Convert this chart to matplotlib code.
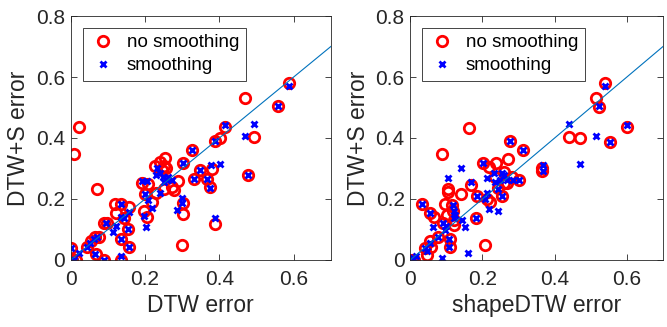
import matplotlib.pyplot as plt
import numpy as np

plt.rcParams['font.family'] = ['Liberation Sans', 'DejaVu Sans']

# DTW error vs DTW+S error, without smoothing
dtw_ns_x = [0.009, 0.022, 0.070, 0.000, 0.003, 0.014, 0.045, 0.054, 0.066, 0.077,
            0.067, 0.090, 0.090, 0.097, 0.118, 0.122, 0.135, 0.135, 0.135, 0.144,
            0.158, 0.155, 0.158, 0.198, 0.191, 0.200, 0.205, 0.209, 0.218, 0.227,
            0.230, 0.239, 0.250, 0.253, 0.250, 0.245, 0.257, 0.273, 0.278, 0.288,
            0.302, 0.302, 0.302, 0.299, 0.327, 0.332, 0.349, 0.367, 0.376, 0.380,
            0.389, 0.389, 0.403, 0.414, 0.470, 0.476, 0.492, 0.557, 0.588]
dtw_ns_y = [0.348, 0.435, 0.234, 0.038, 0.000, 0.000, 0.042, 0.063, 0.074, 0.074,
            0.020, 0.000, 0.120, 0.120, 0.184, 0.153, 0.184, 0.068, 0.000, 0.137,
            0.173, 0.100, 0.042, 0.162, 0.254, 0.215, 0.142, 0.249, 0.191, 0.309,
            0.219, 0.322, 0.309, 0.333, 0.232, 0.295, 0.300, 0.240, 0.229, 0.259,
            0.317, 0.186, 0.151, 0.049, 0.361, 0.266, 0.295, 0.266, 0.240, 0.297,
            0.118, 0.389, 0.399, 0.435, 0.531, 0.279, 0.404, 0.505, 0.579]

# DTW error vs DTW+S error, with smoothing
dtw_s_x = [0.000, 0.002, 0.009, 0.022, 0.045, 0.052, 0.063, 0.072, 0.066, 0.090,
           0.094, 0.115, 0.122, 0.135, 0.135, 0.135, 0.135, 0.144, 0.158, 0.155,
           0.158, 0.198, 0.203, 0.191, 0.205, 0.200, 0.209, 0.218, 0.229, 0.232,
           0.239, 0.241, 0.248, 0.252, 0.259, 0.263, 0.272, 0.286, 0.299, 0.299,
           0.302, 0.327, 0.332, 0.349, 0.367, 0.376, 0.377, 0.401, 0.389, 0.389,
           0.414, 0.468, 0.492, 0.476, 0.557, 0.588]
dtw_s_y = [0.038, 0.000, 0.000, 0.024, 0.042, 0.057, 0.068, 0.074, 0.020, 0.000,
           0.122, 0.093, 0.111, 0.184, 0.068, 0.013, 0.140, 0.137, 0.158, 0.100,
           0.042, 0.144, 0.109, 0.259, 0.259, 0.215, 0.197, 0.169, 0.279, 0.301,
           0.284, 0.219, 0.273, 0.257, 0.262, 0.273, 0.262, 0.164, 0.186, 0.202,
           0.317, 0.361, 0.266, 0.295, 0.266, 0.235, 0.311, 0.314, 0.137, 0.389,
           0.443, 0.407, 0.446, 0.279, 0.505, 0.571]

# shapeDTW error vs DTW+S error, without smoothing
shp_ns_x = [0.005, 0.011, 0.032, 0.042, 0.046, 0.054, 0.057, 0.055, 0.065, 0.076,
            0.088, 0.090, 0.097, 0.103, 0.106, 0.106, 0.110, 0.109, 0.115, 0.118,
            0.120, 0.122, 0.140, 0.162, 0.168, 0.183, 0.185, 0.201, 0.208, 0.212,
            0.217, 0.220, 0.237, 0.235, 0.242, 0.254, 0.259, 0.268, 0.272, 0.277,
            0.282, 0.300, 0.312, 0.366, 0.366, 0.441, 0.471, 0.514, 0.523, 0.540,
            0.554, 0.600, 0.259]
shp_ns_y = [0.000, 0.000, 0.184, 0.038, 0.016, 0.063, 0.042, 0.153, 0.142, 0.074,
            0.348, 0.122, 0.184, 0.148, 0.232, 0.224, 0.068, 0.042, 0.180, 0.162,
            0.131, 0.115, 0.216, 0.434, 0.246, 0.137, 0.210, 0.319, 0.049, 0.199,
            0.306, 0.191, 0.317, 0.273, 0.235, 0.210, 0.290, 0.251, 0.330, 0.391,
            0.273, 0.262, 0.361, 0.293, 0.300, 0.402, 0.399, 0.532, 0.503, 0.579,
            0.388, 0.435, 0.254]

# shapeDTW error vs DTW+S error, with smoothing
shp_s_x = [0.005, 0.009, 0.017, 0.032, 0.042, 0.046, 0.054, 0.055, 0.063, 0.076,
           0.088, 0.090, 0.097, 0.100, 0.106, 0.107, 0.108, 0.118, 0.122, 0.122,
           0.125, 0.140, 0.143, 0.152, 0.160, 0.168, 0.183, 0.185, 0.201, 0.208,
           0.214, 0.214, 0.217, 0.231, 0.235, 0.242, 0.242, 0.249, 0.254, 0.254,
           0.260, 0.268, 0.277, 0.285, 0.300, 0.312, 0.367, 0.367, 0.439, 0.471,
           0.514, 0.523, 0.540, 0.554, 0.600]
shp_s_y = [0.000, 0.005, 0.013, 0.184, 0.038, 0.031, 0.057, 0.153, 0.109, 0.074,
           0.005, 0.122, 0.098, 0.111, 0.268, 0.068, 0.042, 0.180, 0.162, 0.137,
           0.148, 0.301, 0.131, 0.107, 0.024, 0.257, 0.137, 0.210, 0.317, 0.199,
           0.268, 0.221, 0.166, 0.284, 0.257, 0.162, 0.232, 0.262, 0.210, 0.284,
           0.279, 0.262, 0.391, 0.262, 0.262, 0.361, 0.311, 0.293, 0.446, 0.314,
           0.407, 0.505, 0.571, 0.388, 0.443]

x_ticks = [0, 0.2, 0.4, 0.6]
y_ticks = [0, 0.2, 0.4, 0.6, 0.8]
tick_labels_x = ['0', '0.2', '0.4', '0.6']
tick_labels_y = ['0', '0.2', '0.4', '0.6', '0.8']

fig = plt.figure(figsize=(6.67, 3.27), dpi=100)
ax1 = fig.add_axes([0.106, 0.205, 0.39, 0.746])
ax2 = fig.add_axes([0.615, 0.205, 0.379, 0.746])

line_col = (0, 0.447, 0.741)
axis_col = (0.15, 0.15, 0.15)

panels = [(ax1, dtw_ns_x, dtw_ns_y, dtw_s_x, dtw_s_y, 'DTW error'),
          (ax2, shp_ns_x, shp_ns_y, shp_s_x, shp_s_y, 'shapeDTW error')]

for ax, nx, ny, sx, sy, xlab in panels:
    ax.plot(nx, ny, 'o', mfc='none', mec='red', mew=2, ms=7.5,
            linestyle='none', label='no smoothing')
    ax.plot(sx, sy, 'x', color='blue', mew=2, ms=4.5,
            linestyle='none', label='smoothing')
    ax.plot([0, 0.7], [0, 0.7], color=line_col, lw=0.8)
    ax.set_xlim(0, 0.7)
    ax.set_ylim(0, 0.8)
    ax.set_xticks(x_ticks)
    ax.set_xticklabels(tick_labels_x)
    ax.set_yticks(y_ticks)
    ax.set_yticklabels(tick_labels_y)
    ax.tick_params(direction='in', top=True, right=True, length=4, pad=4,
                   labelsize=15, colors=axis_col, width=0.6)
    ax.tick_params(axis='x', pad=7)
    for sp in ax.spines.values():
        sp.set_color(axis_col)
        sp.set_linewidth(0.6)
    ax.set_xlabel(xlab, fontsize=16.5, color=axis_col, labelpad=4)
    ax.set_ylabel('DTW+S error', fontsize=16.5, color=axis_col, labelpad=4)
    leg = ax.legend(loc='upper left', bbox_to_anchor=(0.046, 0.952),
                    fontsize=13.5, fancybox=False, framealpha=1,
                    edgecolor=axis_col, borderpad=0.35, handletextpad=0.5,
                    labelspacing=0.3, handlelength=1.5, borderaxespad=0)
    leg.get_frame().set_linewidth(0.6)

fig.savefig('out.png', dpi=100)
